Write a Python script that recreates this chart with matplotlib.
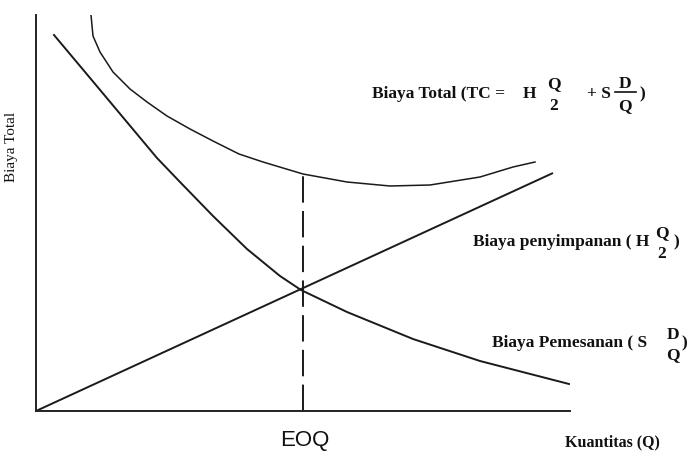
import matplotlib
matplotlib.use("Agg")
import matplotlib.pyplot as plt

W, H = 698, 464

# curve readings (x = quantity, y = cost), in chart units
holding_q = [0, 517]
holding_cost = [0, 238]

ordering_q = [18, 44, 80, 121, 144, 177, 211, 244, 265, 311, 377, 444, 533]
ordering_cost = [376, 345, 302, 253, 229, 195, 162, 135, 121, 99, 72, 50, 27]

total_q = [55, 57, 64, 77, 94, 111, 131, 154, 177, 203, 227, 267, 311, 354, 394, 444, 477, 499]
total_cost = [396, 375, 359, 339, 322, 309, 295, 282, 270, 257, 249, 237, 229, 225, 226, 234, 244, 249]

eoq_q = 267
eoq_cost = 237

plt.rcParams['lines.scale_dashes'] = False
fig = plt.figure(figsize=(W / 100, H / 100), dpi=100)
ax = fig.add_axes([36 / W, (H - 412) / H, 534 / W, 396 / H])
ax.set_xlim(0, 534)
ax.set_ylim(0, 396)
for side in ['top', 'right']:
    ax.spines[side].set_visible(False)
for side in ['left', 'bottom']:
    ax.spines[side].set_linewidth(1.4)
    ax.spines[side].set_color('#222222')
ax.set_xticks([])
ax.set_yticks([])

ax.plot(holding_q, holding_cost, color='#1a1a1a', lw=1.4, solid_capstyle='butt')
ax.plot(ordering_q, ordering_cost, color='#1a1a1a', lw=1.4)
ax.plot(total_q, total_cost, color='#1a1a1a', lw=1.1)
ax.plot([eoq_q, eoq_q], [0, eoq_cost], color='#1a1a1a', lw=1.4, dashes=(19, 6))

serif_b = dict(family='Liberation Serif', weight='bold', color='#111111')


def put(x, y, s, size=12.5, ha='left', **kw):
    props = dict(serif_b)
    props.update(kw)
    fig.text(x / W, 1 - y / H, s, fontsize=size, ha=ha, va='baseline', **props)


# total cost label
put(372, 98, 'Biaya Total (TC =')
put(523, 98, 'H')
put(554, 88, 'Q', ha='center')
put(554, 110, '2', ha='center')
put(587, 98, '+ S')
put(625, 88, 'D', ha='center')
fig.add_artist(plt.Line2D([615 / W, 636 / W], [1 - 93 / H, 1 - 93 / H],
                          color='#111111', lw=1.2))
put(625, 110, 'Q', ha='center')
put(640, 98, ')')

# holding cost label
put(473, 246, 'Biaya penyimpanan ( H')
put(662, 237, 'Q', ha='center')
put(662, 258, '2', ha='center')
put(674, 246, ')')

# ordering cost label
put(492, 347, 'Biaya Pemesanan ( S')
put(673, 339, 'D', ha='center')
put(673, 359, 'Q', ha='center')
put(681, 347, ')')

# axis labels
put(565, 446, 'Kuantitas (Q)', size=11.5)
fig.text(305 / W, 1 - 446 / H, 'EOQ', fontsize=16, family='Liberation Sans',
         ha='center', va='baseline', color='#111111')
fig.text(11 / W, 1 - 147 / H, 'Biaya Total', fontsize=11, family='Liberation Serif',
         rotation=90, ha='center', va='center', color='#111111')

fig.savefig('out.png', dpi=100)
